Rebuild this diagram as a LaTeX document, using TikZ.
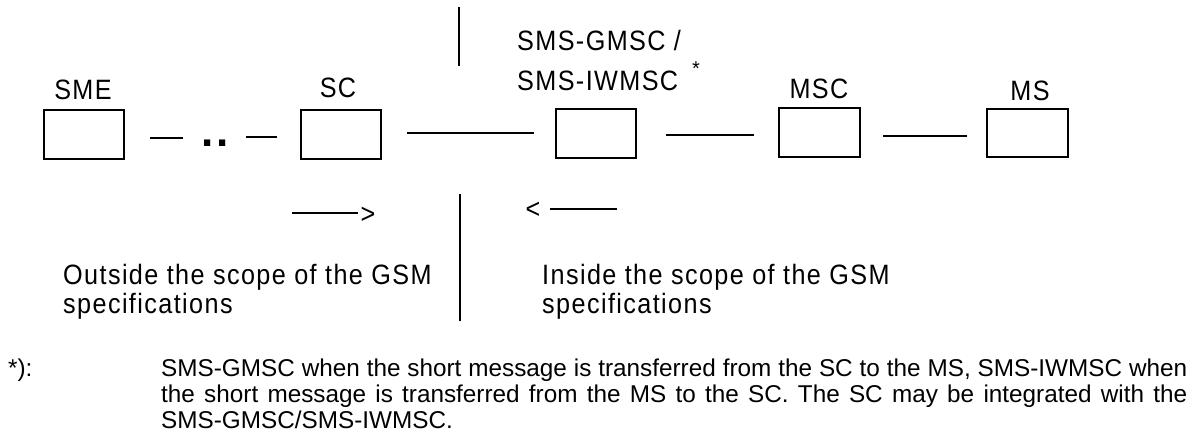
\documentclass[tikz,border=0pt]{standalone}
\usepackage{fontspec}
\setmainfont{Liberation Sans}
\newfontfamily\labfont[LetterSpace=5,FakeStretch=0.9]{Liberation Sans}
\newfontfamily\dotfont{Liberation Sans}
\begin{document}
\begin{tikzpicture}[x=1pt,y=-1pt,
  box/.style={draw, line width=1.3pt, minimum width=80pt, minimum height=49pt, inner sep=0pt},
  lab/.style={inner sep=0pt, font=\labfont\fontsize{28}{30}\selectfont},
  fn/.style={inner sep=0pt, anchor=base west, font=\fontsize{24.3}{27}\selectfont},
  conn/.style={line width=1.4pt},
  sep/.style={line width=1.4pt}]
\useasboundingbox (0,0) rectangle (1196,437);
% boxes
\node[box] (sme) at (84,134.5) {};
\node[box] (sc) at (341,134.5) {};
\node[box] (gmsc) at (596,133.5) {};
\node[box, minimum width=81pt] (msc) at (819.5,132.5) {};
\node[box, minimum width=81pt, minimum height=48pt] (ms) at (1027.5,133) {};
% labels
\node[lab, anchor=base] (smel) at (83,99) {SME};
\node[lab, anchor=base] (scl) at (338,97) {SC};
\node[lab, anchor=base west] (gmscl) at (517,50) {SMS-GMSC /};
\node[lab, anchor=base west] (iwmscl) at (517,90) {SMS-IWMSC};
\node[inner sep=0pt, anchor=base, font=\fontsize{20}{20}\selectfont] (star) at (696,75) {*};
\node[lab, anchor=base] (mscl) at (819,98) {MSC};
\node[lab, anchor=base] (msl) at (1030,100) {MS};
% connectors
\coordinate (c1a) at (150,138); \coordinate (c1b) at (183,138);
\node[inner sep=0pt, anchor=base west, font=\dotfont\bfseries\fontsize{44}{44}\selectfont] (dots) at (201,146) {.\kern3pt.};
\coordinate (c2a) at (246,137); \coordinate (c2b) at (277,137);
\coordinate (c3a) at (407,133); \coordinate (c3b) at (534,133);
\coordinate (c4a) at (666,135); \coordinate (c4b) at (754,135);
\coordinate (c5a) at (883,136); \coordinate (c5b) at (967,136);
\draw[conn] (c1a) -- (c1b);
\draw[conn] (c2a) -- (c2b);
\draw[conn] (c3a) -- (c3b);
\draw[conn] (c4a) -- (c4b);
\draw[conn] (c5a) -- (c5b);
% separator
\coordinate (v1) at (459,7); \coordinate (v2) at (459,66);
\coordinate (v3) at (460,194); \coordinate (v4) at (460,321);
\draw[sep] (v1) -- (v2);
\draw[sep] (v3) -- (v4);
% direction marks
\coordinate (r1) at (292,213); \coordinate (r2) at (358,213);
\draw[conn] (r1) -- (r2);
\node[lab, anchor=base] (gt) at (368,223) {>};
\node[lab, anchor=base] (lt) at (533,218) {<};
\coordinate (l1) at (550,209); \coordinate (l2) at (617,209);
\draw[conn] (l1) -- (l2);
% scope texts
\node[lab, anchor=base west] (out1) at (63,284) {Outside the scope of the GSM};
\node[lab, anchor=base west] (out2) at (63,313) {specifications};
\node[lab, anchor=base west] (in1) at (542,284) {Inside the scope of the GSM};
\node[lab, anchor=base west] (in2) at (542,313) {specifications};
% footnote
\node[fn] (fnstar) at (8,376) {*):};
\node[fn] (fn1) at (161,376) {\makebox[1026pt][s]{SMS-GMSC when the short message is transferred from the SC to the MS, SMS-IWMSC when}};
\node[fn] (fn2) at (161,402) {\makebox[1026pt][s]{the short message is transferred from the MS to the SC. The SC may be integrated with the}};
\node[fn] (fn3) at (161,428) {SMS-GMSC/SMS-IWMSC.};
\end{tikzpicture}
\end{document}
